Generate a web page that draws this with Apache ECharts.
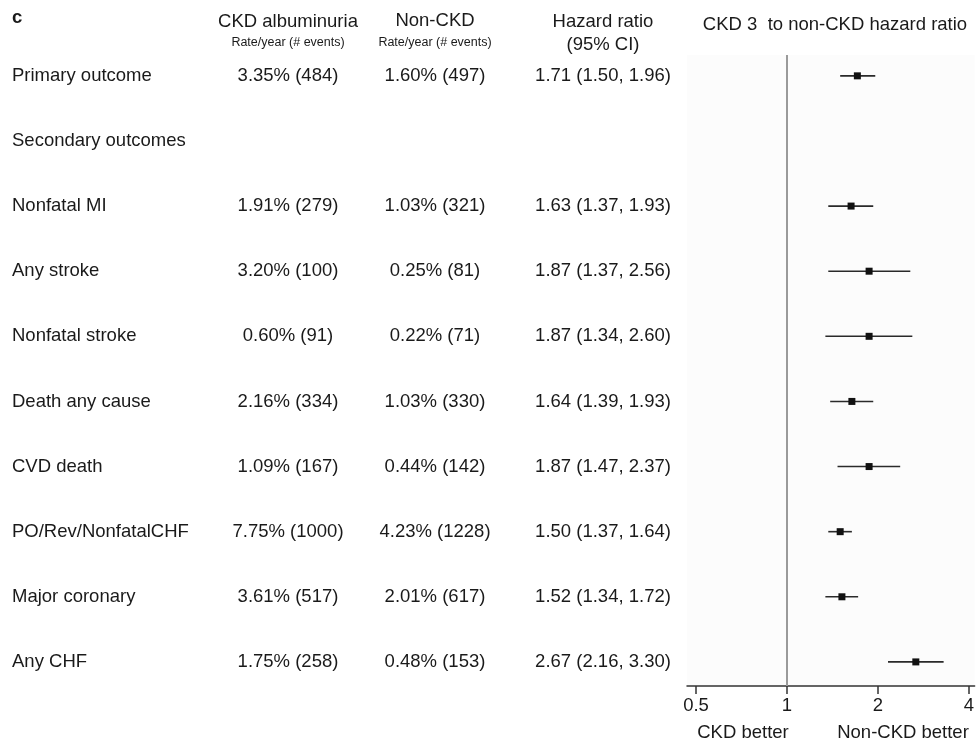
<!DOCTYPE html>
<html>
<head>
<meta charset="utf-8">
<script src="https://cdn.jsdelivr.net/npm/echarts@6/dist/echarts.min.js"></script>
<style>
  html, body { margin: 0; padding: 0; background: #fff; }
  #chart { width: 977px; height: 743px; }
</style>
</head>
<body>
<div id="chart"></div>
<script>
// rows, top to bottom
const outcomes = [
  'Primary outcome', 'Secondary outcomes', 'Nonfatal MI', 'Any stroke', 'Nonfatal stroke',
  'Death any cause', 'CVD death', 'PO/Rev/NonfatalCHF', 'Major coronary', 'Any CHF'
]
const ckdRates = [
  '3.35% (484)', '', '1.91% (279)', '3.20% (100)', '0.60% (91)',
  '2.16% (334)', '1.09% (167)', '7.75% (1000)', '3.61% (517)', '1.75% (258)'
]
const nonCkdRates = [
  '1.60% (497)', '', '1.03% (321)', '0.25% (81)', '0.22% (71)',
  '1.03% (330)', '0.44% (142)', '4.23% (1228)', '2.01% (617)', '0.48% (153)'
]
const hr = [1.71, null, 1.63, 1.87, 1.87, 1.64, 1.87, 1.50, 1.52, 2.67]
const hrLow = [1.50, null, 1.37, 1.37, 1.34, 1.39, 1.47, 1.37, 1.34, 2.16]
const hrHigh = [1.96, null, 1.93, 2.56, 2.60, 1.93, 2.37, 1.64, 1.72, 3.30]
const xTicks = [0.5, 1, 2, 4]

// 布局
const FONT = '"Liberation Sans", Arial, Helvetica, sans-serif'
const TEXT_COLOR = '#1a1a1a'
const FS = 18.5
const colX = { name: 12, ckd: 288, nonCkd: 435, hr: 603 }

const chart = echarts.init(document.getElementById('chart'))

const fmt = (v) => v.toFixed(2)
const hrText = hr.map((v, i) => (v == null ? '' : `${fmt(v)} (${fmt(hrLow[i])}, ${fmt(hrHigh[i])})`))

// 表格文字列（用散点标签画）
const textSeries = (x, texts, align) => ({
  type: 'scatter',
  xAxisIndex: 0,
  yAxisIndex: 0,
  symbolSize: 1,
  itemStyle: { color: 'rgba(255,255,255,0)', opacity: 1 },
  silent: true,
  data: texts.map((t, i) => [x, i, t]),
  label: {
    show: true,
    position: [0.5, 0.5],
    align: align,
    verticalAlign: 'middle',
    formatter: (p) => p.data[2],
    fontFamily: FONT,
    fontSize: FS,
    color: TEXT_COLOR,
    textBorderWidth: 0
  }
})

const headText = (x, y, text, size, extra) => ({
  type: 'text',
  x: x,
  y: y,
  silent: true,
  style: Object.assign({
    text: text,
    fontFamily: FONT,
    fontSize: size,
    fill: TEXT_COLOR,
    textAlign: 'center',
    textVerticalAlign: 'middle'
  }, extra || {})
})

const yRange = { min: -0.32, max: 9.37 }

const option = {
  animation: false,
  grid: [
    { left: 0, width: 687, top: 55, bottom: 57 },
    { left: 687, right: 0, top: 55, bottom: 57, show: true, backgroundColor: '#fcfcfc', borderWidth: 0 }
  ],
  xAxis: [
    { gridIndex: 0, type: 'value', min: 0, max: 687, show: false },
    {
      gridIndex: 1,
      type: 'log',
      logBase: 2,
      min: 0.4667,
      max: 4.18,
      axisLine: { show: true, onZero: false, lineStyle: { color: '#333', width: 1.5 } },
      axisTick: { show: true, customValues: xTicks, length: 8, inside: false, lineStyle: { color: '#333', width: 1.5 } },
      axisLabel: {
        customValues: xTicks,
        formatter: (v) => String(v),
        margin: 10,
        fontFamily: FONT,
        fontSize: FS,
        color: TEXT_COLOR
      },
      splitLine: { show: false },
      minorTick: { show: false }
    }
  ],
  yAxis: [
    { gridIndex: 0, type: 'value', inverse: true, min: yRange.min, max: yRange.max, show: false },
    { gridIndex: 1, type: 'value', inverse: true, min: yRange.min, max: yRange.max, show: false }
  ],
  graphic: [
    headText(12, 18, 'c', FS, { textAlign: 'left', fontWeight: 'bold' }),
    headText(colX.ckd, 22, 'CKD albuminuria', FS),
    headText(colX.ckd, 43, 'Rate/year (# events)', 12.5),
    headText(colX.nonCkd, 21, 'Non-CKD', FS),
    headText(colX.nonCkd, 43, 'Rate/year (# events)', 12.5),
    headText(colX.hr, 22, 'Hazard ratio', FS),
    headText(colX.hr, 45, '(95% CI)', FS),
    headText(835, 25, 'CKD 3  to non-CKD hazard ratio', FS),
    headText(743, 733, 'CKD better', FS),
    headText(903, 733, 'Non-CKD better', FS)
  ],
  series: [
    textSeries(colX.name, outcomes, 'left'),
    textSeries(colX.ckd, ckdRates, 'center'),
    textSeries(colX.nonCkd, nonCkdRates, 'center'),
    textSeries(colX.hr, hrText, 'center'),
    {
      // 置信区间
      type: 'custom',
      xAxisIndex: 1,
      yAxisIndex: 1,
      silent: true,
      data: hr.map((v, i) => (v == null ? null : [hrLow[i], hrHigh[i], i])).filter((d) => d),
      renderItem: (params, api) => {
        const a = api.coord([api.value(0), api.value(2)])
        const b = api.coord([api.value(1), api.value(2)])
        return {
          type: 'line',
          shape: { x1: a[0], y1: a[1], x2: b[0], y2: b[1] },
          style: { stroke: '#2a2a2a', lineWidth: 1.6 }
        }
      },
      encode: { x: [0, 1], y: 2 },
      z: 3
    },
    {
      type: 'scatter',
      xAxisIndex: 1,
      yAxisIndex: 1,
      silent: true,
      symbol: 'rect',
      symbolSize: 7,
      itemStyle: { color: '#111', opacity: 1 },
      data: hr.map((v, i) => (v == null ? null : [v, i])).filter((d) => d),
      z: 4,
      markLine: {
        silent: true,
        symbol: 'none',
        label: { show: false },
        lineStyle: { color: '#9a9a9a', width: 2, type: 'solid' },
        data: [{ xAxis: 1 }]
      }
    }
  ]
}

chart.setOption(option)
window.addEventListener('resize', () => chart.resize())
</script>
</body>
</html>
